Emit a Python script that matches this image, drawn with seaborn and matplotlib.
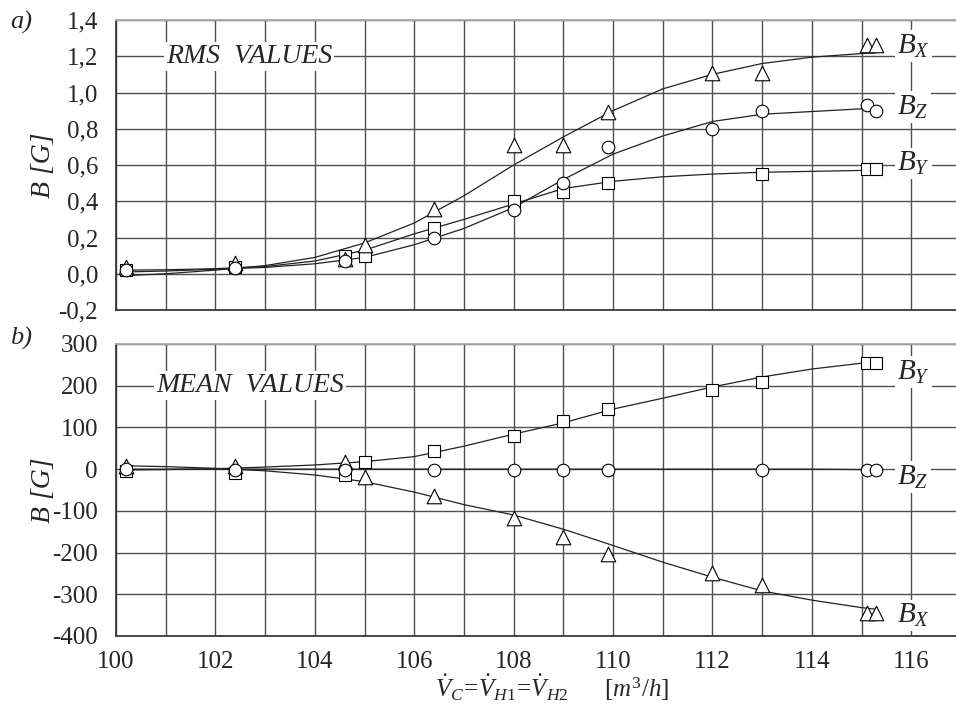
import numpy as np
import pandas as pd
import matplotlib
matplotlib.use("Agg")
import matplotlib.pyplot as plt
from matplotlib.ticker import FixedLocator, FixedFormatter, MultipleLocator
import seaborn as sns

# ---------------- data ----------------
# (a) RMS values, measured points
rms_bx_x = [100.2, 102.4, 104.6, 105.0, 106.4, 108.0, 109.0, 109.9, 112.0, 113.0, 115.1, 115.3]
rms_bx = [0.04, 0.06, 0.08, 0.16, 0.36, 0.71, 0.71, 0.89, 1.11, 1.11, 1.26, 1.26]
rms_bz_x = [100.2, 102.4, 104.6, 106.4, 108.0, 109.0, 109.9, 112.0, 113.0, 115.1, 115.3]
rms_bz = [0.02, 0.03, 0.07, 0.20, 0.35, 0.50, 0.70, 0.80, 0.90, 0.93, 0.90]
rms_by_x = [100.2, 102.4, 104.6, 105.0, 106.4, 108.0, 109.0, 109.9, 113.0, 115.1, 115.3]
rms_by = [0.02, 0.04, 0.10, 0.10, 0.25, 0.40, 0.45, 0.50, 0.55, 0.58, 0.58]

# (a) RMS values, fitted curves
fit_x = [100.2, 101, 102, 103, 104, 105, 106, 107, 108, 109, 110, 111, 112, 113, 114, 115, 115.3]
rms_fit_bx = [-0.01, 0.0, 0.02, 0.045, 0.09, 0.17, 0.28, 0.43, 0.60, 0.755, 0.90, 1.02, 1.10, 1.16, 1.195, 1.215, 1.22]
rms_fit_bz = [0.01, 0.015, 0.025, 0.035, 0.055, 0.09, 0.16, 0.25, 0.365, 0.52, 0.66, 0.76, 0.84, 0.88, 0.895, 0.91, 0.91]
rms_fit_by = [0.02, 0.022, 0.028, 0.04, 0.07, 0.13, 0.22, 0.30, 0.385, 0.47, 0.51, 0.535, 0.55, 0.56, 0.565, 0.57, 0.57]

# (b) mean values, measured points
mean_bx_x = [100.2, 102.4, 104.6, 105.0, 106.4, 108.0, 109.0, 109.9, 112.0, 113.0, 115.1, 115.3]
mean_bx = [7, 8, 17, -20, -64, -117, -163, -204, -249, -278, -345, -345]
mean_by_x = [100.2, 102.4, 104.6, 105.0, 106.4, 108.0, 109.0, 109.9, 112.0, 113.0, 115.1, 115.3]
mean_by = [-4, -9, -14, 17, 43, 80, 115, 145, 190, 208, 255, 254]
mean_bz_x = [100.2, 102.4, 104.6, 106.4, 108.0, 109.0, 109.9, 113.0, 115.1, 115.3]
mean_bz = [0, -1, -1, -1, -1, -1, -1, -1, -3, -3]

# (b) mean values, fitted curves
mean_fit_bx = [8, 6, 2, -4, -14, -30, -55, -85, -110, -144, -183, -223, -259, -292, -314, -332, -336]
mean_fit_by = [-2, -1, 1, 5, 10, 18, 30, 55, 84, 111, 144, 170, 197, 221, 240, 254, 257]
mean_fit_bz = [0, 0, 0, 0, 0, 0, 0, 0, 0, 0, 0, 0, 0, 0, 0, -1, -1]

# ticks
x_ticks = [100, 102, 104, 106, 108, 110, 112, 114, 116]
x_tick_labels = ["100", "102", "104", "106", "108", "110", "112", "114", "116"]
rms_ticks = [-0.2, 0.0, 0.2, 0.4, 0.6, 0.8, 1.0, 1.2, 1.4]
rms_tick_labels = ["-0,2", "0,0", "0,2", "0,4", "0,6", "0,8", "1,0", "1,2", "1,4"]
mean_ticks = [-400, -300, -200, -100, 0, 100, 200, 300]
mean_tick_labels = ["-400", "-300", "-200", "-100", "0", "100", "200", "300"]

# ---------------- style ----------------
sns.set_theme(style="white")
plt.rcParams["font.family"] = ["Liberation Serif", "DejaVu Serif"]
plt.rcParams["mathtext.fontset"] = "custom"
plt.rcParams["mathtext.rm"] = "Liberation Serif"
plt.rcParams["mathtext.it"] = "Liberation Serif:italic"
plt.rcParams["axes.unicode_minus"] = False

fig = plt.figure(figsize=(9.56, 7.04), dpi=100)
L = 116 / 956
W = 1 - L
ax1 = fig.add_axes([L, 1 - 310 / 704, W, 290 / 704])
ax2 = fig.add_axes([L, 1 - 636 / 704, W, 292 / 704])

LINE = "#222222"
GRID = "#505050"


def style_axes(ax, yticks, ylabels, ylim, yminor, show_x):
    ax.set_xlim(100, 116.9)
    ax.set_ylim(*ylim)
    ax.xaxis.set_major_locator(FixedLocator(list(range(100, 118))))
    ax.xaxis.set_minor_locator(MultipleLocator(0.2))
    ax.yaxis.set_major_locator(FixedLocator(yticks))
    ax.yaxis.set_major_formatter(FixedFormatter(ylabels))
    ax.yaxis.set_minor_locator(MultipleLocator(yminor))
    ax.xaxis.set_major_formatter(FixedFormatter(
        [x_tick_labels[x_ticks.index(v)] if (v in x_ticks and show_x) else "" for v in range(100, 118)]))
    ax.grid(True, which="major", color=GRID, lw=1.0)
    ax.tick_params(axis="both", which="major", direction="out", length=8, width=1.0,
                   color=GRID, labelsize=18, pad=5)
    ax.tick_params(axis="both", which="minor", direction="in", length=5, width=0.8,
                   color=GRID)
    ax.tick_params(axis="y", which="major", pad=5)
    ax.tick_params(axis="x", which="major", pad=3)
    ax.spines["right"].set_visible(False)
    ax.spines["top"].set_color("#aaaaaa")
    ax.spines["top"].set_linewidth(1.3)
    ax.spines["left"].set_color("#333333")
    ax.spines["bottom"].set_color("#333333")
    for s in ax.spines.values():
        s.set_zorder(1)
    ax.set_axisbelow(True)
    ax.set_ylabel("B [G]", fontsize=20, style="italic")
    ax.yaxis.set_label_coords(-0.072, 0.5)


def draw_panel(ax, fits, pts):
    for fy in fits:
        sns.lineplot(x=fit_x, y=fy, ax=ax, color=LINE, lw=0.9, zorder=2, legend=False)
    for (px, py, mk, sz) in pts:
        sns.scatterplot(x=px, y=py, ax=ax, marker=mk, s=sz, facecolor="white",
                        edgecolor="black", linewidth=0.8, zorder=4, legend=False)


style_axes(ax1, rms_ticks, rms_tick_labels, (-0.2, 1.4), 0.05, False)
style_axes(ax2, mean_ticks, mean_tick_labels, (-400, 300), 20, True)

draw_panel(ax1, [rms_fit_bx, rms_fit_bz, rms_fit_by],
           [(rms_by_x, rms_by, "s", 64), (rms_bx_x, rms_bx, "^", 110), (rms_bz_x, rms_bz, "o", 82)])
draw_panel(ax2, [mean_fit_bx, mean_fit_bz, mean_fit_by],
           [(mean_by_x, mean_by, "s", 64), (mean_bx_x, mean_bx, "^", 110), (mean_bz_x, mean_bz, "o", 82)])

box = dict(facecolor="white", edgecolor="none", pad=1.5)
ax1.text(102.68, 1.2, "RMS  VALUES", fontsize=20, style="italic", ha="center", va="center", bbox=box, zorder=5)
ax2.text(102.7, 200, "MEAN  VALUES", fontsize=20, style="italic", ha="center", va="center", bbox=box, zorder=5)

for ax, labs in [(ax1, [("$B_X$", 1.257), ("$B_Z$", 0.92), ("$B_Y$", 0.61)]),
                 (ax2, [("$B_Y$", 233), ("$B_Z$", -19), ("$B_X$", -350)])]:
    for t, yv in labs:
        ax.text(115.72, yv, t, fontsize=21, ha="left", va="center", bbox=box, zorder=5)

fig.text(10 / 956, 1 - 22 / 704, "a)", fontsize=19, style="italic", ha="left", va="center")
fig.text(10 / 956, 1 - 338 / 704, "b)", fontsize=19, style="italic", ha="left", va="center")

fig.text(552 / 956, 1 - 697 / 704,
         r"$\dot{V}_C\!=\!\dot{V}_{H1}\!=\!\dot{V}_{H2}\quad\quad[m^3/h]$",
         fontsize=18, ha="center", va="baseline")

fig.savefig("out.png", dpi=100)
